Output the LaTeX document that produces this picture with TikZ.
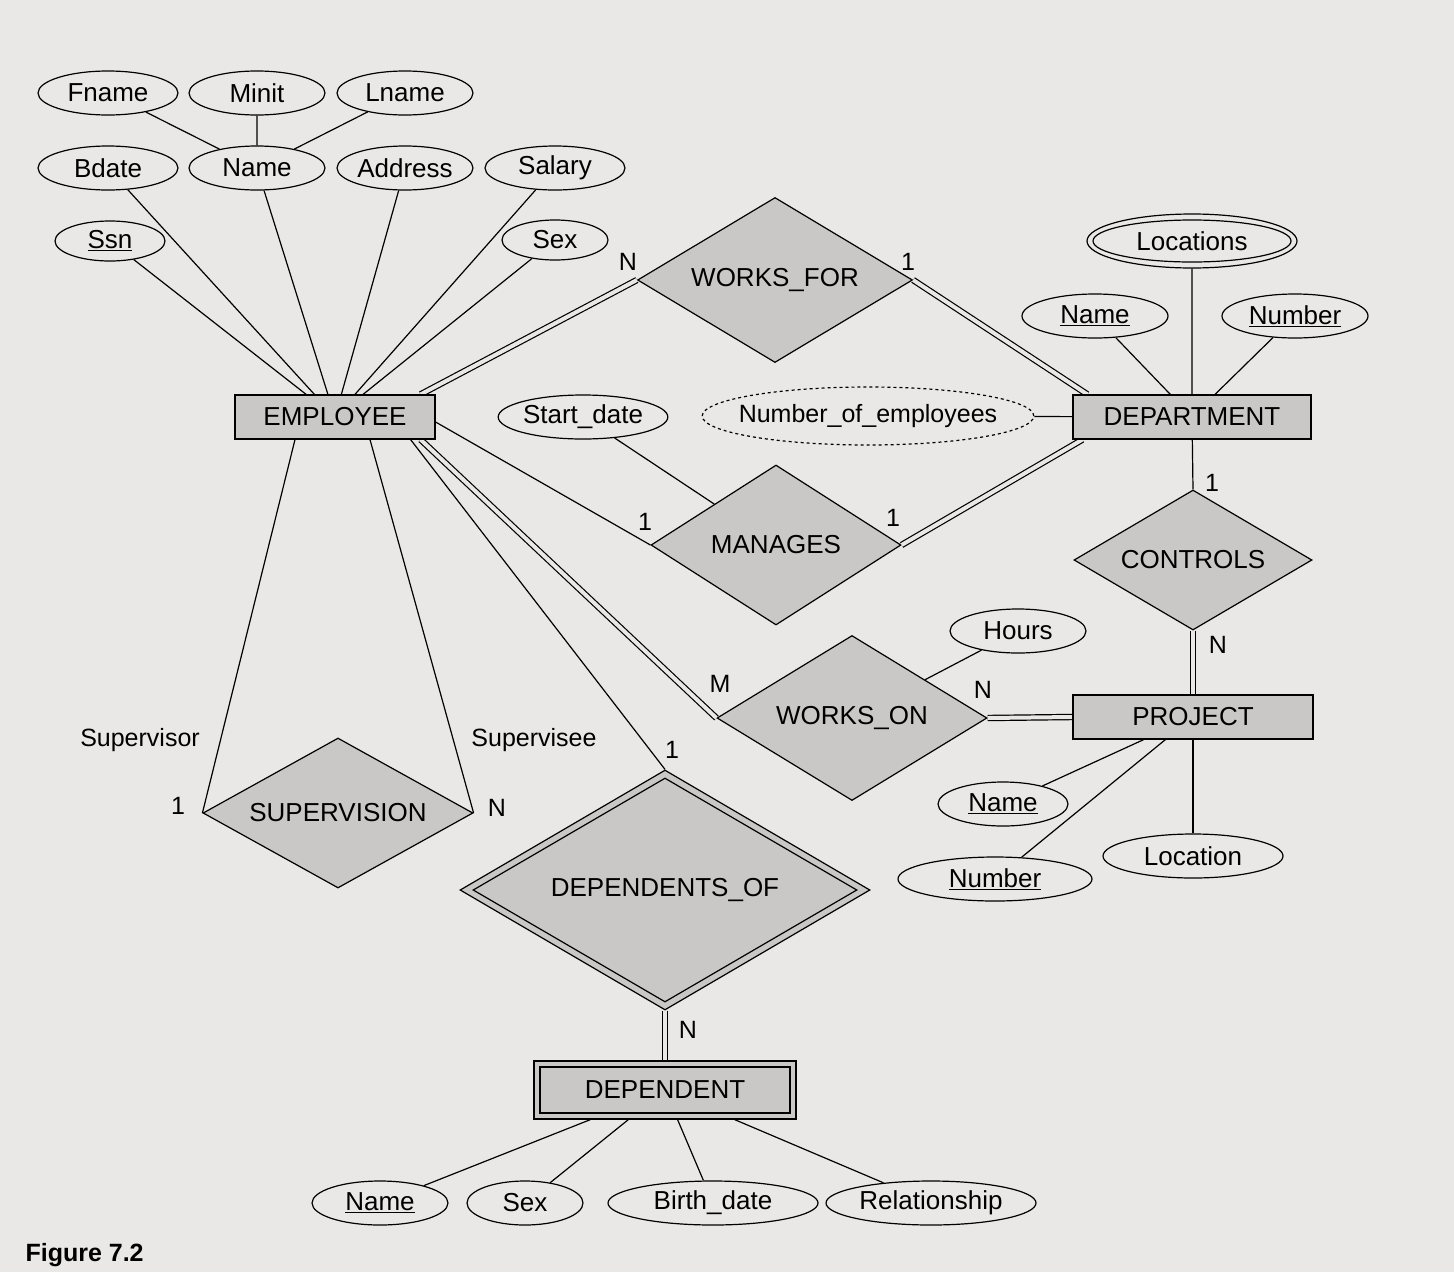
\documentclass[tikz,border=0pt]{standalone}
\usepackage{fontspec}
\setmainfont{Liberation Sans}
\usetikzlibrary{shapes.geometric,calc}
\definecolor{paper}{HTML}{E9E8E6}
\definecolor{ent}{HTML}{C9C8C6}
\tikzset{
 attr/.style={ellipse,draw,line width=1.2pt,fill=paper,minimum height=44pt,inner sep=0pt,font=\fontsize{26}{30}\selectfont},
 entbox/.style={rectangle,draw,line width=1.2pt,fill=ent,minimum height=44pt,inner sep=0pt,font=\fontsize{26}{30}\selectfont},
 rel/.style={diamond,draw,line width=1.2pt,fill=ent,inner sep=0pt,label={[font=\fontsize{26}{30}\selectfont]center:#1}},
 dbl/.style={double,double distance=4pt,line width=1.2pt,double=paper},
 lnk/.style={line width=1.2pt},
 lbl/.style={font=\fontsize{25}{29}\selectfont,inner sep=1pt}
}
\begin{document}
\begin{tikzpicture}[x=1pt,y=-1pt]
\fill[paper] (0,0) rectangle (1454,1272);
\useasboundingbox (0,0) rectangle (1454,1272);
% employee attributes
\node[attr,minimum width=140pt] (fname) at (108,93) {Fname};
\node[attr,minimum width=136pt] (minit) at (257,93) {Minit};
\node[attr,minimum width=136pt] (lname) at (405,93) {Lname};
\node[attr,minimum width=140pt] (bdate) at (108,168) {Bdate};
\node[attr,minimum width=136pt] (ename) at (257,168) {Name};
\node[attr,minimum width=136pt] (addr) at (405,168) {Address};
\node[attr,minimum width=140pt] (salary) at (555,168) {Salary};
\node[attr,minimum width=110pt,minimum height=40pt] (ssn) at (110,241) {\underline{Ssn}};
\node[attr,minimum width=106pt,minimum height=40pt] (esex) at (555,240) {Sex};
\node[entbox,minimum width=200pt] (emp) at (335,417) {EMPLOYEE};
% department
\node[attr,minimum width=210pt,minimum height=54pt] (loc) at (1192,241) {};
\node[attr,minimum width=198pt,minimum height=42pt] (loci) at (1192,241) {Locations};
\node[attr,minimum width=146pt] (dname) at (1095,316) {\underline{Name}};
\node[attr,minimum width=146pt] (dnum) at (1295,316) {\underline{Number}};
\node[entbox,minimum width=238pt] (dept) at (1192,417) {DEPARTMENT};
\node[attr,minimum width=146pt] (sdate) at (583,417) {Start\_date};
\node[attr,minimum width=320pt,minimum height=58pt,dashed,font=\fontsize{25}{29}\selectfont,inner xsep=-12pt] (noe) at (868,416) {Number\_of\_employees};
% relationships
\node[rel=WORKS\_FOR,minimum width=275pt,minimum height=165pt] (wf) at (775,280) {};
\node[rel=MANAGES,minimum width=250pt,minimum height=160pt] (man) at (776,545) {};
\node[rel=CONTROLS,minimum width=238pt,minimum height=140pt] (ctl) at (1193,560) {};
\node[entbox,minimum width=240pt] (proj) at (1193,717) {PROJECT};
\node[attr,minimum width=136pt] (hours) at (1018,631) {Hours};
\node[rel=WORKS\_ON,minimum width=270pt,minimum height=165pt] (wo) at (852,718) {};
\node[attr,minimum width=130pt] (pname) at (1003,804) {\underline{Name}};
\node[attr,minimum width=180pt] (ploc) at (1193,856) {Location};
\node[attr,minimum width=194pt] (pnum) at (995,879) {\underline{Number}};
\node[rel=SUPERVISION,minimum width=270pt,minimum height=150pt] (sup) at (338,813) {};
\node[rel=,minimum width=410pt,minimum height=240pt] (dof) at (665,890) {};
\node[rel=DEPENDENTS\_OF,minimum width=384pt,minimum height=224pt] (dofi) at (665,890) {};
\node[entbox,minimum width=262pt,minimum height=58pt] (dep) at (665,1090) {};
\node[attr,minimum width=136pt] (dname2) at (380,1203) {\underline{Name}};
\node[attr,minimum width=116pt] (dsex) at (525,1203) {Sex};
\node[attr,minimum width=210pt] (bd) at (713,1203) {Birth\_date};
\node[attr,minimum width=210pt] (rel) at (931,1203) {Relationship};
% attribute links
\draw[lnk] (fname) -- (ename) (minit) -- (ename) (lname) -- (ename);
\foreach \a in {ename,bdate,addr,salary,ssn,esex} \draw[lnk] (\a) -- (emp);
\draw[lnk] (dname) -- (dept) (dnum) -- (dept) (loc) -- (dept);
\draw[lnk] (noe) -- (dept);
\draw[lnk] (sdate) -- (man);
\draw[lnk] (hours) -- (wo);
\draw[lnk] (proj) -- (pname) (proj) -- (pnum);
\draw[lnk] (proj) -- (ploc);
\foreach \a in {dname2,dsex,bd,rel} \draw[lnk] (dep) -- (\a);
% relationship links
\draw[dbl] ($(emp.north east)+(-15,0)$) -- (wf.west);
\draw[dbl] (wf.east) -- ($(dept.north west)+(15,0)$);
\draw[lnk] ($(emp.east)+(0,5)$) -- (man.west);
\draw[dbl] (man.east) -- ($(dept.south west)+(10,0)$);
\draw[dbl] ($(emp.south east)+(-15,0)$) -- (wo.west);
\draw[lnk] ($(emp.south east)+(-25,0)$) -- (dof.north);
\draw[lnk] (dept) -- (ctl.north);
\draw[dbl] (ctl.south) -- (proj);
\draw[dbl] (wo.east) -- (proj.west);
\draw[lnk] ($(emp.south)+(-40,0)$) -- (sup.west);
\draw[lnk] ($(emp.south)+(35,0)$) -- (sup.east);
\draw[dbl] (dof.south) -- (dep.north);
% redraw entity boxes on top of links
\node[entbox,minimum width=200pt] at (emp) {EMPLOYEE};
\node[entbox,minimum width=238pt] at (dept) {DEPARTMENT};
\node[entbox,minimum width=240pt] at (proj) {PROJECT};
\node[entbox,minimum width=262pt,minimum height=58pt] at (dep) {};
\node[entbox,minimum width=250pt,minimum height=46pt] (depi) at (dep) {DEPENDENT};
% labels
\node[lbl] at (628,262) {N};
\node[lbl] at (908,262) {1};
\node[lbl] at (645,522) {1};
\node[lbl] at (893,518) {1};
\node[lbl] at (1212,483) {1};
\node[lbl] at (1218,645) {N};
\node[lbl] at (720,684) {M};
\node[lbl] at (983,690) {N};
\node[lbl] at (672,750) {1};
\node[lbl] at (178,806) {1};
\node[lbl] at (497,808) {N};
\node[lbl] at (688,1030) {N};
\node[lbl] at (140,740) {Supervisor};
\node[lbl] at (534,740) {Supervisee};
\node[font=\bfseries\fontsize{25}{29}\selectfont,anchor=west] (fig) at (22,1255) {Figure 7.2};
\end{tikzpicture}
\end{document}
